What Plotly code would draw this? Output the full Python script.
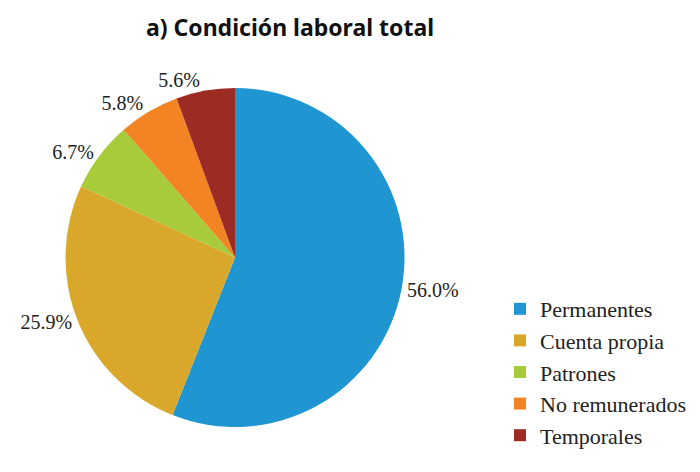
import plotly.graph_objects as go

categories = ["Permanentes", "Cuenta propia", "Patrones", "No remunerados", "Temporales"]
shares = [56.0, 25.9, 6.7, 5.8, 5.6]
colors = ["#1f95d2", "#d9a82a", "#a7cb3b", "#f28424", "#9b2b23"]

fig = go.Figure(go.Pie(
    labels=categories,
    values=shares,
    sort=False,
    direction="clockwise",
    rotation=0,
    marker=dict(colors=colors, line=dict(width=0)),
    texttemplate="%{value:.1f}%",
    textposition="outside",
    textfont=dict(family="Liberation Serif", size=20, color="#222222"),
    domain=dict(x=[57 / 700, 397 / 700], y=[53 / 472, 392 / 472]),
    showlegend=True,
))

fig.update_layout(
    width=700,
    height=472,
    margin=dict(l=0, r=0, t=0, b=0),
    paper_bgcolor="white",
    title=dict(
        text="<b>a) Condición laboral total</b>",
        x=282 / 700, xanchor="center",
        y=1 - 20 / 472, yanchor="middle",
        font=dict(family="Noto Sans", size=23, color="#111111"),
    ),
    legend=dict(
        x=492 / 700, xanchor="left",
        y=1 - 280 / 472, yanchor="top",
        font=dict(family="Liberation Serif", size=22, color="#222222"),
        itemwidth=30,
    ),
)

fig.write_html("out.html")
